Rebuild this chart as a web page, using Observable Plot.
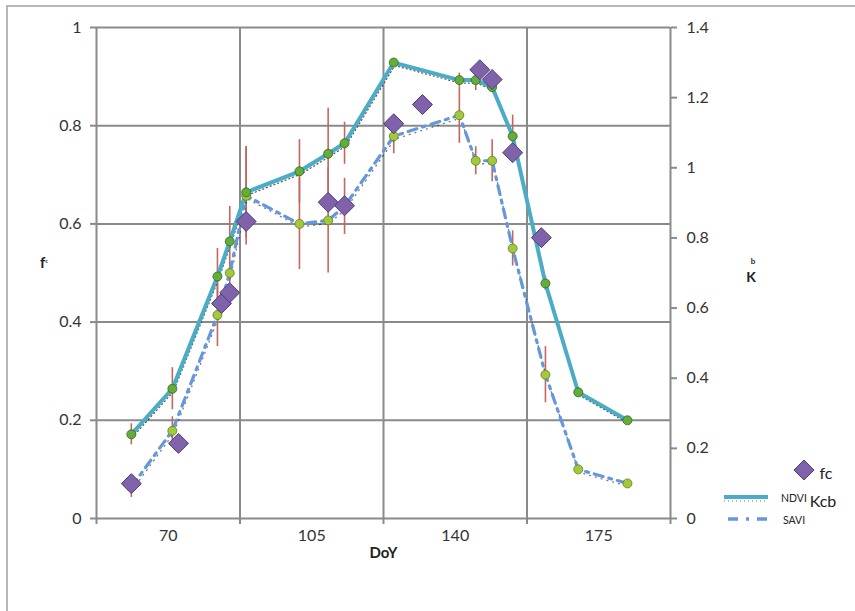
<!DOCTYPE html>
<html><head><meta charset="utf-8">
<script src="https://cdn.jsdelivr.net/npm/d3@7"></script>
<script src="https://cdn.jsdelivr.net/npm/@observablehq/plot@0.6"></script>
<style>body{margin:0;background:#fff} svg{display:block}</style>
</head><body><div id="chart"></div>
<script>
// ---- data ----
const doy      = [61, 71, 82, 85, 89, 102, 109, 113, 125, 141, 145, 149, 154, 162, 170, 182];
const kcbNdvi  = [0.24, 0.37, 0.69, 0.79, 0.93, 0.99, 1.04, 1.07, 1.30, 1.25, 1.25, 1.23, 1.09, 0.67, 0.36, 0.28];
const kcbSavi  = [0.09, 0.25, 0.58, 0.70, 0.92, 0.84, 0.85, 0.89, 1.09, 1.15, 1.02, 1.02, 0.77, 0.41, 0.14, 0.10];
const errNdvi  = [0.03, 0.06, 0.08, 0.10, 0.13, 0.09, 0.13, 0.06, 0.01, 0.02, 0.03, 0.01, 0.06, 0.02, 0, 0];
const errSavi  = [0.03, 0.04, 0.09, 0.03, 0.14, 0.13, 0.15, 0.08, 0.05, 0.08, 0.04, 0.06, 0.05, 0.08, 0, 0];
const fcDoy    = [61, 72.5, 83, 85, 89, 109, 113, 125, 132, 146, 149, 154, 161];
const fcVal    = [0.071, 0.153, 0.438, 0.46, 0.605, 0.644, 0.637, 0.804, 0.843, 0.914, 0.894, 0.745, 0.572];
const fTicks   = [0, 0.2, 0.4, 0.6, 0.8, 1];
const kcbTicks = [0, 0.2, 0.4, 0.6, 0.8, 1, 1.2, 1.4];
const xLabels  = [70, 105, 140, 175];
const xGrid    = [52.5, 87.5, 122.5, 157.5, 192.5];
const KMAX = 1.4;

const ndvi = doy.map((d, i) => ({doy: d, k: kcbNdvi[i], e: errNdvi[i]}));
const savi = doy.map((d, i) => ({doy: d, k: kcbSavi[i], e: errSavi[i]}));
const fc = fcDoy.map((d, i) => ({doy: d, f: fcVal[i]}));
const toF = k => k / KMAX;

const grid = "#8a8a8a";
const teal = "#4bacc6";
const blue = "#6497dc";
const purple = "#7f62aa";
const errC = "#c4665c";

const chart = Plot.plot({
  width: 855, height: 611,
  marginLeft: 96, marginRight: 185, marginTop: 27, marginBottom: 93,
  style: {fontFamily: "Lato, 'Open Sans', sans-serif", fontSize: "16px", color: "#333", background: "#fff"},
  x: {domain: [52.5, 192.5]},
  y: {domain: [0, 1]},
  marks: [
    Plot.ruleY(fTicks, {stroke: grid, strokeWidth: 2}),
    Plot.ruleX(xGrid, {stroke: grid, strokeWidth: 2}),
    Plot.axisX({ticks: xGrid, tickFormat: () => "", tickSize: 6, stroke: grid, strokeWidth: 2, strokeOpacity: 1, label: null}),
    Plot.axisX({ticks: xLabels, tickSize: 0, tickPadding: 11, label: null, fontSize: 16}),
    Plot.axisY({anchor: "left", ticks: fTicks, tickSize: 6, tickPadding: 9, tickFormat: d => String(+d.toFixed(1)), stroke: grid, strokeWidth: 2, strokeOpacity: 1, label: null, fontSize: 16}),
    Plot.axisY({anchor: "right", ticks: kcbTicks.map(toF), tickSize: 6, tickPadding: 10, tickFormat: d => String(+(d * KMAX).toFixed(1)), stroke: grid, strokeWidth: 2, strokeOpacity: 1, label: null, fontSize: 16}),
    // error bars
    Plot.ruleX(ndvi.filter(d => d.e > 0), {x: "doy", y1: d => toF(d.k - d.e), y2: d => toF(d.k + d.e), stroke: errC, strokeWidth: 1.6}),
    Plot.ruleX(savi.filter(d => d.e > 0), {x: "doy", y1: d => toF(d.k - d.e), y2: d => toF(d.k + d.e), stroke: errC, strokeWidth: 1.6}),
    // shadows
    Plot.line(ndvi, {x: "doy", y: d => toF(d.k), dy: 3, dx: 1, stroke: "#111", strokeWidth: 1.3, strokeDasharray: "1,3", strokeOpacity: 0.7}),
    Plot.line(savi, {x: "doy", y: d => toF(d.k), dy: 3, dx: 1, stroke: "#111", strokeWidth: 1.3, strokeDasharray: "1,5", strokeOpacity: 0.55}),
    // lines
    Plot.line(savi, {x: "doy", y: d => toF(d.k), stroke: blue, strokeWidth: 3.2, strokeDasharray: "9,6,3,6"}),
    Plot.line(ndvi, {x: "doy", y: d => toF(d.k), stroke: teal, strokeWidth: 4}),
    // markers
    Plot.dot(savi, {x: "doy", y: d => toF(d.k), r: 4.5, fill: "#a2c83c", stroke: "#5e7d1e", strokeWidth: 0.8}),
    Plot.dot(ndvi, {x: "doy", y: d => toF(d.k), r: 4.5, fill: "#63ad3a", stroke: "#33661c", strokeWidth: 0.8}),
    Plot.dot(fc, {x: "doy", y: "f", symbol: "diamond2", r: 9, fill: purple, stroke: "#4f3c7c", strokeWidth: 1}),
    // axis titles
    Plot.text(["DoY"], {frameAnchor: "bottom", dy: 39, fontWeight: "bold", fontSize: 15, fill: "#222"}),
  ]
});
document.getElementById("chart").appendChild(chart);

// extra layout items: border, side titles, legend
const svg = d3.select(chart);
svg.insert("rect", ":first-child").attr("x", 7).attr("y", 6).attr("width", 900).attr("height", 700)
  .attr("fill", "none").attr("stroke", "#a0a0a0").attr("stroke-width", 1.5);
const font = "Lato, 'Open Sans', sans-serif";
const fl = svg.append("text").attr("x", 44).attr("y", 268).attr("font-family", font).attr("font-weight", "bold").attr("font-size", 15).attr("fill", "#222");
fl.append("tspan").text("f");
fl.append("tspan").attr("font-size", 5).attr("dy", -5).text("c");
svg.append("text").attr("x", 751).attr("y", 282).attr("font-family", font).attr("font-weight", "bold").attr("font-size", 14).attr("fill", "#222").text("K");
svg.append("text").attr("x", 753).attr("y", 264).attr("font-family", font).attr("font-weight", "bold").attr("font-size", 8).attr("fill", "#222").text("b");

// legend
const lg = svg.append("g").attr("font-family", font).attr("fill", "#222");
lg.append("path").attr("d", d3.symbol(d3.symbolDiamond2, 254)()).attr("transform", "translate(804,470)")
  .attr("fill", purple).attr("stroke", "#4f3c7c");
lg.append("text").attr("x", 826).attr("y", 479).attr("font-size", 16).text("fc");
lg.append("line").attr("x1", 724).attr("x2", 768).attr("y1", 497).attr("y2", 497).attr("stroke", teal).attr("stroke-width", 4);
lg.append("line").attr("x1", 724).attr("x2", 768).attr("y1", 501).attr("y2", 501).attr("stroke", "#111").attr("stroke-width", 1).attr("stroke-dasharray", "1,3").attr("stroke-opacity", 0.6);
lg.append("line").attr("x1", 728).attr("x2", 770).attr("y1", 519).attr("y2", 519).attr("stroke", blue).attr("stroke-width", 3.5).attr("stroke-dasharray", "10,8,3,8");
lg.append("text").attr("x", 794).attr("y", 502).attr("font-size", 10.5).text("NDVI");
lg.append("text").attr("x", 794).attr("y", 524).attr("font-size", 10.5).text("SAVI");
lg.append("text").attr("x", 823).attr("y", 507).attr("font-size", 16).text("Kcb");
</script>
</body></html>
